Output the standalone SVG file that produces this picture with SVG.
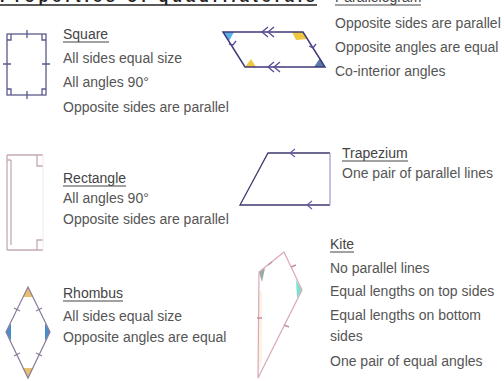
<svg xmlns="http://www.w3.org/2000/svg" width="504" height="381" viewBox="0 0 504 381">
<style>
.t{font-family:"Liberation Sans",Arial,sans-serif;font-size:14px;fill:#555}
.h{font-family:"Liberation Sans",Arial,sans-serif;font-size:14px;fill:#444}
.ul{stroke:#444;stroke-width:1}
.sq{fill:none;stroke:#5a5a8a;stroke-width:1.3}
.re{fill:none;stroke:#c4aab8;stroke-width:1.3}
.rh{fill:none;stroke:#8a7a9a;stroke-width:1.2}
.pa{fill:none;stroke:#3d3a78;stroke-width:1.5}
.tr{fill:none;stroke:#3d3a6e;stroke-width:1.3}
.ki{fill:none;stroke:#d8a8b8;stroke-width:1.2}
</style>
<rect width="504" height="381" fill="#fff"/>

<g id="title">
<text x="0" y="2" style="font-family:'Liberation Sans',Arial,sans-serif;font-size:16px;font-weight:bold;fill:#222" textLength="315">Properties of quadrilaterals</text>
<line x1="0" y1="5" x2="317" y2="5" stroke="#222" stroke-width="1.6"/>
</g>

<g id="square">
<rect class="sq" x="7" y="34" width="39" height="61"/>
<path class="sq" d="M27 30V38M27 91V99M3 64H11M42 64H50M7 40H11V34M42 34V40H46M7 89H11V95M42 95V89H46"/>
<text class="h" x="63" y="39">Square</text>
<line class="ul" x1="63" y1="42" x2="109" y2="42"/>
<text class="t" x="63" y="63">All sides equal size</text>
<text class="t" x="63" y="87">All angles 90°</text>
<text class="t" x="63" y="112">Opposite sides are parallel</text>
</g>

<g id="parallelogram">
<path d="M223 32L234 32L229 41Z" fill="#5ab0e8"/>
<path d="M292 32L303 32L307 39L296 40Z" fill="#f0c840"/>
<path d="M245 67L256 67L251 59Z" fill="#f0c840"/>
<path d="M314 67L325 67L320 58Z" fill="#5a78a8"/>
<path class="pa" d="M223 32H303L325 67H245Z"/>
<path d="M268 27L262 32L268 37M274 27L268 32L274 37M274 62L268 67L274 72M280 62L274 67L280 72M229 44L233 45L236 41M309 46L313 48L316 44" fill="none" stroke="#5a4a98" stroke-width="1.3"/>
<text class="h" x="335" y="2">Parallelogram</text>
<line class="ul" x1="335" y1="5" x2="421" y2="5"/>
<text class="t" x="335" y="28">Opposite sides are parallel</text>
<text class="t" x="335" y="52">Opposite angles are equal</text>
<text class="t" x="335" y="76">Co-interior angles</text>
</g>

<g id="rectangle">
<path class="re" d="M7 155H43M7 155V250M7 250H43M11 160V245M7 160H11M37 155V166H43M37 250V240H43"/>
<line x1="43" y1="155" x2="43" y2="250" stroke="#f0e8ee" stroke-width="1"/>
<text class="h" x="63" y="183">Rectangle</text>
<line class="ul" x1="63" y1="186" x2="126" y2="186"/>
<text class="t" x="63" y="203">All angles 90°</text>
<text class="t" x="63" y="224">Opposite sides are parallel</text>
</g>

<g id="trapezium">
<path class="tr" d="M330 153H268L240 205H330"/>
<line x1="330" y1="153" x2="330" y2="205" stroke="#9a98c8" stroke-width="1.2"/>
<path d="M295 149L290 153L295 157M312 201L307 205L312 209" fill="none" stroke="#6a5aa8" stroke-width="1.2"/>
<text class="h" x="342" y="158">Trapezium</text>
<line class="ul" x1="342" y1="161" x2="408" y2="161"/>
<text class="t" x="342" y="178">One pair of parallel lines</text>
</g>

<g id="rhombus">
<path d="M28 287L23 297H33Z" fill="#e8c070"/>
<path d="M28 378L23 368H33Z" fill="#e8c070"/>
<path d="M6 332L11 323V341Z" fill="#4a8cc8"/>
<path d="M50 332L45 323V341Z" fill="#4a8cc8"/>
<path class="rh" d="M28 287L50 332L28 378L6 332Z"/>
<path class="rh" d="M14 308L20 311M42 308L36 311M14 356L20 353M42 356L36 353"/>
<text class="h" x="63" y="298">Rhombus</text>
<line class="ul" x1="63" y1="301" x2="123" y2="301"/>
<text class="t" x="63" y="321">All sides equal size</text>
<text class="t" x="63" y="342">Opposite angles are equal</text>
</g>

<g id="kite">
<path d="M259 272L265 268L262 282Z" fill="#98aaa4"/>
<path d="M302 290L296 280L297 298Z" fill="#80e0d0"/>
<path d="M259 290L258 378L262 360L262 292Z" fill="#fdf3e2"/>
<path class="ki" d="M284 252L302 290L258 378L259 272Z"/>
<path d="M268 265L272 262M291 267L296 265M257 318H262M284 325L289 327" stroke="#c890a8" stroke-width="1.5"/>
<text class="h" x="330" y="249">Kite</text>
<line class="ul" x1="330" y1="252" x2="354" y2="252"/>
<text class="t" x="330" y="273">No parallel lines</text>
<text class="t" x="330" y="296">Equal lengths on top sides</text>
<text class="t" x="330" y="320">Equal lengths on bottom</text>
<text class="t" x="330" y="341">sides</text>
<text class="t" x="330" y="366">One pair of equal angles</text>
</g>
</svg>
